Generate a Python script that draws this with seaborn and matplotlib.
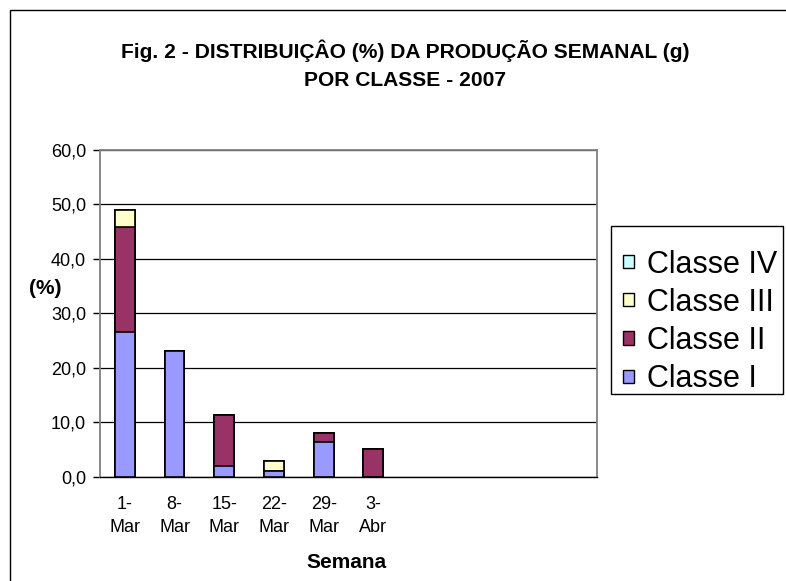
import pandas as pd
import numpy as np
import matplotlib.pyplot as plt
import seaborn as sns
from matplotlib.patches import Patch, Rectangle

# -----------------------------
#   dados
# -----------------------------
semanas = ['1-\nMar', '8-\nMar', '15-\nMar', '22-\nMar', '29-\nMar', '3-\nAbr']
vazios = [' ', '  ', '   ', '    ']   # posições sem dados no eixo
classe_i = [26.6, 23.1, 2.0, 1.1, 6.4, 0.0]
classe_ii = [19.2, 0.0, 9.4, 0.0, 1.7, 5.0]
classe_iii = [3.2, 0.0, 0.0, 1.8, 0.0, 0.0]
classe_iv = [0.0, 0.0, 0.0, 0.0, 0.0, 0.0]

classes = ['Classe I', 'Classe II', 'Classe III', 'Classe IV']
cores = ['#9999FF', '#993366', '#FFFFCC', '#CCFFFF']

df = pd.DataFrame({'Semana': semanas, 'Classe I': classe_i, 'Classe II': classe_ii,
                   'Classe III': classe_iii, 'Classe IV': classe_iv})
# acumulado para empilhar
acum = df[classes].cumsum(axis=1)
acum['Semana'] = df['Semana']

sns.set_style('white')
plt.rcParams['font.family'] = ['Liberation Sans', 'DejaVu Sans']
plt.rcParams['text.color'] = 'black'
plt.rcParams['xtick.color'] = 'black'
plt.rcParams['ytick.color'] = 'black'

fig = plt.figure(figsize=(7.86, 5.81), dpi=100)
ax = fig.add_axes([100/786, 1 - 476.7/581, 497/786, 327/581])

ordem = semanas + vazios
# desenha do topo para a base, cada barra cobre a anterior
for classe, cor in reversed(list(zip(classes, cores))):
    sns.barplot(data=acum, x='Semana', y=classe, order=ordem, color=cor,
                width=0.4, edgecolor='black', linewidth=1.2, saturation=1,
                errorbar=None, ax=ax, zorder=3)

ax.set_ylim(0, 60)
ax.set_xlim(-0.5, len(ordem) - 0.5)
ax.set_yticks(np.arange(0, 61, 10))
ax.set_yticklabels([f'{v:.1f}'.replace('.', ',') for v in np.arange(0, 61, 10)], fontsize=13)
ax.yaxis.grid(True, color='black', linewidth=0.9)
ax.set_axisbelow(True)

# ticks entre categorias, rótulos no centro
ax.set_xticks(np.arange(len(ordem)))
ax.set_xticklabels(ordem, fontsize=13, linespacing=1.45)
ax.tick_params(axis='x', length=0, pad=14)
ax.set_xticks(np.arange(-0.5, len(ordem), 1), minor=True)
ax.tick_params(axis='x', which='minor', length=5, width=1, color='black', direction='out')
ax.tick_params(axis='y', length=5, width=1, color='black', direction='out', left=True, pad=5)

for lado in ['top', 'right', 'left']:
    ax.spines[lado].set_visible(True)
    ax.spines[lado].set_color('#808080')
    ax.spines[lado].set_linewidth(1.3)
ax.spines['bottom'].set_color('black')
ax.spines['bottom'].set_linewidth(1)

ax.set_xlabel('')
ax.set_ylabel('')
fig.text(45/786, 1 - 289/581, '(%)', fontsize=15, fontweight='bold', ha='center', va='center')
fig.text(346/786, 1 - 563/581, 'Semana', fontsize=15, fontweight='bold', ha='center', va='center')
fig.text(405/786, 1 - 65/581, 'Fig. 2 - DISTRIBUIÇÂO (%) DA PRODUÇÃO SEMANAL (g)\nPOR CLASSE - 2007',
         fontsize=15.1, fontweight='bold', ha='center', va='center', linespacing=1.6)

# legenda (ordem inversa, como no Excel)
handles = [Patch(facecolor=c, edgecolor='black', linewidth=1, label=l)
           for l, c in reversed(list(zip(classes, cores)))]
leg = fig.legend(handles=handles, loc='upper left', bbox_to_anchor=(622.7/786, 1 - 249.5/581),
                 fontsize=22, frameon=False,
                 handlelength=0.38, handleheight=0.3, handletextpad=0.4,
                 labelspacing=0.27, borderpad=0, borderaxespad=0)
fig.patches.append(Rectangle((610.5/786, 1 - 393.5/581), 172.5/786, 167.8/581,
                             transform=fig.transFigure, fill=True, facecolor='white',
                             edgecolor='black', linewidth=1, zorder=0))

# moldura externa do gráfico
fig.patches.append(Rectangle((10/786, -0.1), 1.2, 1.1 - 10/581, transform=fig.transFigure,
                             fill=False, edgecolor='black', linewidth=1))

fig.savefig('out.png', dpi=100)
